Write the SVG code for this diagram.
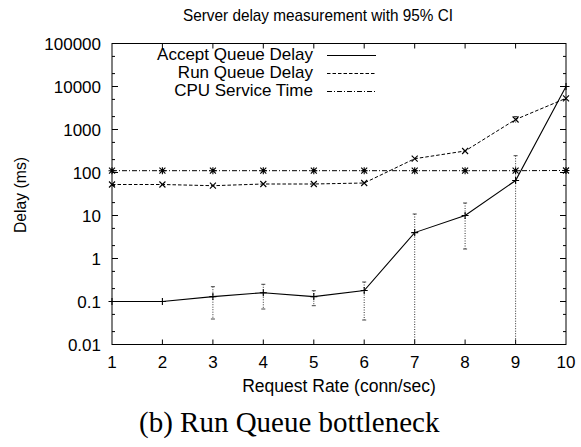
<svg xmlns="http://www.w3.org/2000/svg" width="581" height="447" viewBox="0 0 581 447">
<style>
text{font-family:"Liberation Sans",Arial,sans-serif;fill:#000}
.t17{font-size:17px}
.ax{stroke:#000;stroke-width:1;fill:none}
.tk{stroke:#000;stroke-width:1}
.acc{stroke:#000;stroke-width:1.1;fill:none}
.run{stroke:#000;stroke-width:1;fill:none;stroke-dasharray:3.5 2}
.cpu{stroke:#000;stroke-width:1;fill:none;stroke-dasharray:5 2 1 2}
.err{stroke:#333;stroke-width:1;fill:none;stroke-dasharray:1 1.5}
.cap{stroke:#444;stroke-width:1}
.pt{stroke:#000;stroke-width:1.1;fill:none}
.cap2{font-family:"Liberation Serif","Times New Roman",serif;font-size:29px}
</style>
<defs>
<path id="plus" class="pt" d="M-3.5,0H3.5M0,-3.5V3.5"/>
<path id="cross" class="pt" d="M-3,-3L3,3M-3,3L3,-3"/>
<path id="star" class="pt" d="M-3.5,0H3.5M0,-3.5V3.5M-3,-3L3,3M-3,3L3,-3"/>
</defs>

<text x="183" y="21" font-size="17" textLength="270" lengthAdjust="spacingAndGlyphs">Server delay measurement with 95% CI</text>

<g id="frame">
<rect class="ax" x="112" y="43.5" width="454" height="301"/>
</g>

<g id="yticks" class="tk">
<path d="M112,43.5h6M566,43.5h-6M112,86.5h6M566,86.5h-6M112,129.5h6M566,129.5h-6M112,172.5h6M566,172.5h-6M112,215.5h6M566,215.5h-6M112,258.5h6M566,258.5h-6M112,301.5h6M566,301.5h-6"/>
<path d="M112,56.4h3M566,56.4h-3M112,73.6h3M566,73.6h-3M112,99.4h3M566,99.4h-3M112,116.6h3M566,116.6h-3M112,142.4h3M566,142.4h-3M112,159.6h3M566,159.6h-3M112,185.4h3M566,185.4h-3M112,202.6h3M566,202.6h-3M112,228.4h3M566,228.4h-3M112,245.6h3M566,245.6h-3M112,271.4h3M566,271.4h-3M112,288.6h3M566,288.6h-3M112,314.4h3M566,314.4h-3M112,331.6h3M566,331.6h-3"/>
</g>
<g id="xticks" class="tk">
<path d="M162.4,344.5v-5M162.4,43.5v5M212.9,344.5v-5M212.9,43.5v5M263.3,344.5v-5M263.3,43.5v5M313.8,344.5v-5M313.8,43.5v5M364.2,344.5v-5M364.2,43.5v5M414.7,344.5v-5M414.7,43.5v5M465.1,344.5v-5M465.1,43.5v5M515.6,344.5v-5M515.6,43.5v5"/>
</g>

<g id="ylabels" class="t17" text-anchor="end">
<text x="101" y="50">100000</text>
<text x="101" y="93">10000</text>
<text x="101" y="136">1000</text>
<text x="101" y="179">100</text>
<text x="101" y="222">10</text>
<text x="101" y="265">1</text>
<text x="101" y="308">0.1</text>
<text x="101" y="351">0.01</text>
</g>
<g id="xlabels" class="t17" text-anchor="middle">
<text x="112" y="368">1</text>
<text x="162.4" y="368">2</text>
<text x="212.9" y="368">3</text>
<text x="263.3" y="368">4</text>
<text x="313.8" y="368">5</text>
<text x="364.2" y="368">6</text>
<text x="414.7" y="368">7</text>
<text x="465.1" y="368">8</text>
<text x="515.6" y="368">9</text>
<text x="566" y="368">10</text>
</g>

<text x="339" y="392" text-anchor="middle" font-size="17.5">Request Rate (conn/sec)</text>
<text transform="translate(26,233) rotate(-90)" class="t17" textLength="76" lengthAdjust="spacingAndGlyphs">Delay (ms)</text>

<g id="legend">
<text x="313" y="60" text-anchor="end" class="t17">Accept Queue Delay</text>
<text x="313" y="78" text-anchor="end" class="t17">Run Queue Delay</text>
<text x="313" y="96" text-anchor="end" class="t17">CPU Service Time</text>
<path class="acc" d="M327,55.5H376"/>
<path class="run" d="M327,73.5H376"/>
<path class="cpu" d="M327,91.5H376"/>
</g>

<g id="errorbars">
<path class="err" d="M212.9,286.7V319M263.3,284.3V309M313.8,290.7V305.7M364.2,282V320M414.7,214V344.5M465.1,203V249M515.6,155.7V344.5M515.6,116.5V123"/>
<path class="cap" d="M210.9,286.7h4M210.9,319h4M261.3,284.3h4M261.3,309h4M311.8,290.7h4M311.8,305.7h4M362.2,282h4M362.2,320h4M412.7,214h4M463.1,203h4M463.1,249h4M513.6,155.7h4M513.6,116.5h4"/>
</g>

<g id="series-cpu">
<path class="cpu" d="M112,170.7L162.4,170.7L212.9,170.7L263.3,170.7L313.8,170.7L364.2,170.7L414.7,170.7L465.1,170.7L515.6,170.7L566,170.5"/>
<use href="#star" x="112" y="170.7"/><use href="#star" x="162.4" y="170.7"/><use href="#star" x="212.9" y="170.7"/><use href="#star" x="263.3" y="170.7"/><use href="#star" x="313.8" y="170.7"/><use href="#star" x="364.2" y="170.7"/><use href="#star" x="414.7" y="170.7"/><use href="#star" x="465.1" y="170.7"/><use href="#star" x="515.6" y="170.7"/><use href="#star" x="566" y="170.5"/>
</g>

<g id="series-run">
<path class="run" d="M112,184.5L162.4,184.5L212.9,185.7L263.3,184L313.8,184L364.2,183L414.7,158.7L465.1,151L515.6,119.5L566,98.3"/>
<use href="#cross" x="112" y="184.5"/><use href="#cross" x="162.4" y="184.5"/><use href="#cross" x="212.9" y="185.7"/><use href="#cross" x="263.3" y="184"/><use href="#cross" x="313.8" y="184"/><use href="#cross" x="364.2" y="183"/><use href="#cross" x="414.7" y="158.7"/><use href="#cross" x="465.1" y="151"/><use href="#cross" x="515.6" y="119.5"/><use href="#cross" x="566" y="98.3"/>
</g>

<g id="series-accept">
<path class="acc" d="M112,301.5L162.4,301.5L212.9,296.6L263.3,292.7L313.8,296.6L364.2,290.5L414.7,232.6L465.1,215.5L515.6,180.5L566,86.5"/>
<use href="#plus" x="112" y="301.5"/><use href="#plus" x="162.4" y="301.5"/><use href="#plus" x="212.9" y="296.6"/><use href="#plus" x="263.3" y="292.7"/><use href="#plus" x="313.8" y="296.6"/><use href="#plus" x="364.2" y="290.5"/><use href="#plus" x="414.7" y="232.6"/><use href="#plus" x="465.1" y="215.5"/><use href="#plus" x="515.6" y="180.5"/><use href="#plus" x="566" y="86.5"/>
</g>

<text x="139" y="432" class="cap2">(b) Run Queue bottleneck</text>
</svg>
